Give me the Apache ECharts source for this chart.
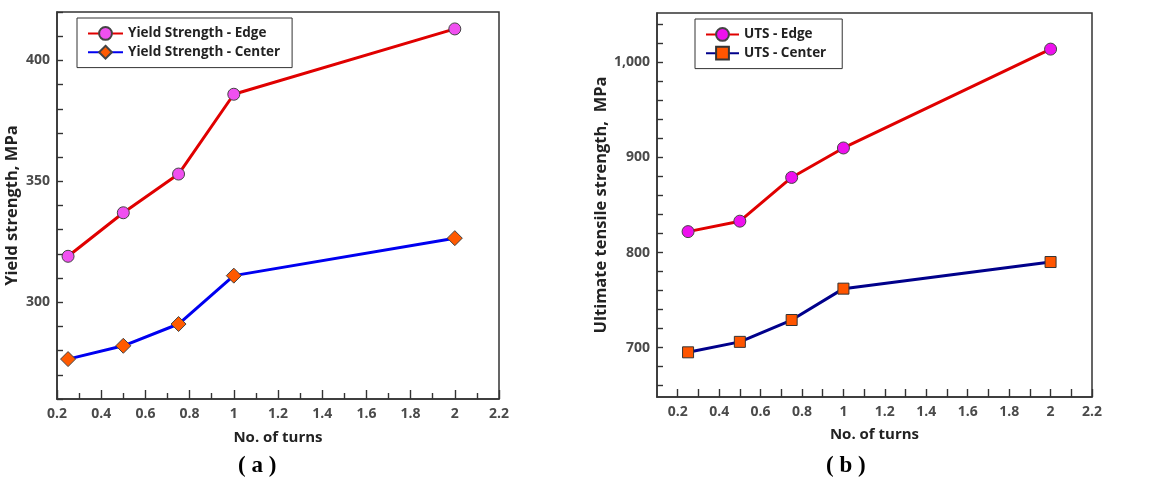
<!DOCTYPE html>
<html><head><meta charset="utf-8">
<script src="https://cdn.jsdelivr.net/npm/echarts@6/dist/echarts.min.js"></script>
<style>html,body{margin:0;padding:0;background:#fff}#c{width:1151px;height:481px}</style>
</head><body><div id="c"></div>
<script>
// Panel (a)
const turnsA = [0.25, 0.5, 0.75, 1, 2];
const ysEdge = [319, 337, 353, 386, 413];
const ysCenter = [276.5, 282, 291, 311, 326.5];
const yTicksA = [300, 350, 400];
// Panel (b)
const turnsB = [0.25, 0.5, 0.75, 1, 2];
const utsEdge = [822, 833, 879, 910, 1014];
const utsCenter = [695, 706, 729, 762, 790];
const yLabelsB = [700, 800, 900, 1000];
const yMinorB = [660, 680, 700, 720, 740, 760, 780, 800, 820, 840, 860, 880, 900, 920, 940, 960, 980, 1000, 1020, 1040];
const xLabels = [0.2, 0.4, 0.6, 0.8, 1, 1.2, 1.4, 1.6, 1.8, 2, 2.2];
const xTicksB = [0.2, 0.3, 0.4, 0.5, 0.6, 0.7, 0.8, 0.9, 1, 1.1, 1.2, 1.3, 1.4, 1.5, 1.6, 1.7, 1.8, 1.9, 2, 2.1, 2.2];

const pair = (xs, ys) => xs.map((x, i) => [x, ys[i]]);
const FONT = 'Open Sans';
const labelStyle = {color: '#4a4a4a', fontWeight: 'bold', fontSize: 14, fontFamily: FONT};
const nameStyle = {color: '#222', fontWeight: 'bold', fontSize: 15, fontFamily: FONT};
const yNameStyle = {color: '#222', fontWeight: 'bold', fontSize: 16.5, fontFamily: FONT};
const lineAx = {show: true, onZero: false, lineStyle: {color: '#333', width: 1.5}};
const tickLine = {color: '#333', width: 1.4};
const fmtX = v => { const r = Math.round(v * 10) / 10; return xLabels.some(l => Math.abs(l - r) < 1e-6) ? String(r) : ''; };

const chart = echarts.init(document.getElementById('c'));
chart.setOption({
  animation: false,
  backgroundColor: '#fff',
  grid: [
    {left: 57, top: 12, width: 442, height: 387, show: true, borderColor: '#333', borderWidth: 1.5, backgroundColor: 'transparent'},
    {left: 657, top: 13, width: 435, height: 384, show: true, borderColor: '#333', borderWidth: 1.5, backgroundColor: 'transparent'}
  ],
  xAxis: [
    {type: 'value', gridIndex: 0, min: 0.2, max: 2.2, interval: 0.2,
     name: 'No. of turns', nameLocation: 'middle', nameGap: 31, nameTextStyle: nameStyle,
     axisLine: lineAx, axisTick: {show: true, inside: true, length: 9, lineStyle: tickLine},
     minorTick: {show: true, splitNumber: 2, length: 6, lineStyle: tickLine},
     axisLabel: Object.assign({margin: 8, formatter: fmtX, showMinLabel: true, showMaxLabel: true}, labelStyle),
     splitLine: {show: false}},
    {type: 'value', gridIndex: 1, min: 0.1, max: 2.2,
     name: 'No. of turns', nameLocation: 'middle', nameGap: 30, nameTextStyle: nameStyle,
     axisLine: lineAx, axisTick: {show: true, inside: true, length: 8, customValues: xTicksB, lineStyle: tickLine},
     axisLabel: Object.assign({margin: 8, customValues: xLabels, formatter: fmtX}, labelStyle),
     splitLine: {show: false}}
  ],
  yAxis: [
    {type: 'value', gridIndex: 0, min: 260, max: 420, interval: 10,
     name: 'Yield strength, MPa', nameLocation: 'middle', nameGap: 36, nameTextStyle: yNameStyle,
     axisLine: lineAx, axisTick: {show: true, inside: true, length: 6, lineStyle: tickLine},
     axisLabel: Object.assign({margin: 7, formatter: v => yTicksA.includes(v) ? String(v) : ''}, labelStyle),
     splitLine: {show: false}},
    {type: 'value', gridIndex: 1, min: 648, max: 1052,
     name: 'Ultimate tensile strength,  MPa', nameLocation: 'middle', nameGap: 46, nameTextStyle: yNameStyle,
     axisLine: lineAx, axisTick: {show: true, inside: true, length: 6, customValues: yMinorB, lineStyle: tickLine},
     axisLabel: Object.assign({margin: 7, customValues: yLabelsB, formatter: v => v.toLocaleString('en-US')}, labelStyle),
     splitLine: {show: false}}
  ],
  legend: [
    {data: ['Yield Strength - Edge', 'Yield Strength - Center'], left: 77, top: 18, orient: 'vertical',
     itemWidth: 35, itemHeight: 16, itemGap: 4, padding: [8, 12, 8, 10],
     borderColor: '#333', borderWidth: 1, backgroundColor: '#fff',
     textStyle: {color: '#222', fontWeight: 'bold', fontSize: 13.5, fontFamily: FONT}},
    {data: ['UTS - Edge', 'UTS - Center'], left: 695, top: 19, orient: 'vertical',
     itemWidth: 33, itemHeight: 16, itemGap: 4, padding: [8, 16, 8, 10],
     borderColor: '#333', borderWidth: 1, backgroundColor: '#fff',
     textStyle: {color: '#222', fontWeight: 'bold', fontSize: 13.5, fontFamily: FONT}}
  ],
  series: [
    {name: 'Yield Strength - Edge', type: 'line', xAxisIndex: 0, yAxisIndex: 0, data: pair(turnsA, ysEdge),
     lineStyle: {color: '#e00000', width: 3}, symbol: 'circle', symbolSize: 12,
     itemStyle: {color: '#f050f0', borderColor: '#444', borderWidth: 1}},
    {name: 'Yield Strength - Center', type: 'line', xAxisIndex: 0, yAxisIndex: 0, data: pair(turnsA, ysCenter),
     lineStyle: {color: '#0000f0', width: 3}, symbol: 'diamond', symbolSize: 15,
     itemStyle: {color: '#ff5a00', borderColor: '#444', borderWidth: 1}},
    {name: 'UTS - Edge', type: 'line', xAxisIndex: 1, yAxisIndex: 1, data: pair(turnsB, utsEdge),
     lineStyle: {color: '#e00000', width: 3}, symbol: 'circle', symbolSize: 12,
     itemStyle: {color: '#ee10ee', borderColor: '#444', borderWidth: 1}},
    {name: 'UTS - Center', type: 'line', xAxisIndex: 1, yAxisIndex: 1, data: pair(turnsB, utsCenter),
     lineStyle: {color: '#00008b', width: 3}, symbol: 'rect', symbolSize: 11,
     itemStyle: {color: '#ff5500', borderColor: '#333', borderWidth: 1}}
  ],
  graphic: [
    {type: 'text', left: 238, top: 455, style: {text: '( a )', font: 'bold 23px "Liberation Serif"', fill: '#000'}},
    {type: 'text', left: 826, top: 455, style: {text: '( b )', font: 'bold 23px "Liberation Serif"', fill: '#000'}}
  ]
});
</script></body></html>
